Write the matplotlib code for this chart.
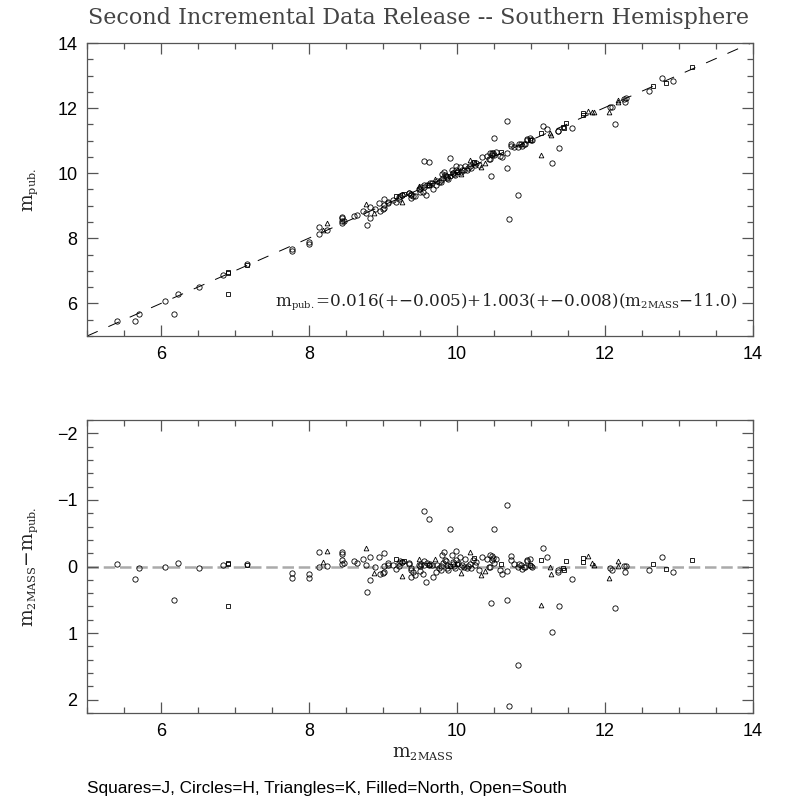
import numpy as np
import matplotlib
matplotlib.use('Agg')
import matplotlib.pyplot as plt
from matplotlib.ticker import MultipleLocator
import matplotlib._mathtext as mtext

plt.rcParams['mathtext.fontset'] = 'dejavuserif'
# smaller subscripts, closer to the original plotting package
mtext.SHRINK_FACTOR = 0.6

# 2MASS magnitude and (m_2MASS - m_pub.) residual, one pair of lists per band
# J band -> squares
j_m2mass = [6.90, 6.90, 6.90, 7.16, 9.17, 9.29, 9.62, 9.90, 10.00, 10.23, 10.60, 10.99,
            11.14, 11.43, 11.44, 11.47, 11.70, 11.70, 12.65, 12.82, 13.17]
j_diff = [-0.06, -0.04, 0.60, -0.03, -0.12, -0.085, -0.03, -0.01, -0.04, -0.125, -0.04, -0.02,
          -0.095, 0.025, 0.055, -0.085, -0.135, -0.075, -0.04, 0.045, -0.10]

# H band -> circles
h_m2mass = [5.41, 5.65, 5.70, 6.06, 6.18, 6.23, 6.52, 6.84, 7.16, 7.77, 7.77, 8.00, 8.00,
            8.14, 8.14, 8.24, 8.44, 8.44, 8.44, 8.44, 8.47, 8.61, 8.65, 8.73, 8.77, 8.82,
            8.89, 8.82, 8.79, 8.94, 8.96, 9.00, 9.01, 9.02, 9.01, 9.07, 9.07, 9.14, 9.17,
            9.21, 9.23, 9.26, 9.21, 9.35, 9.38, 9.38, 9.40, 9.38, 9.43, 9.49,
            9.25, 9.35, 9.52, 9.55, 9.55, 9.59, 9.62, 9.64, 9.66, 9.50, 9.50, 9.71, 9.73,
            9.76, 9.78, 9.79, 9.81, 9.82, 9.80, 9.84, 9.85, 9.86, 9.87, 9.88, 9.93, 9.94,
            9.95, 9.96, 9.98, 9.97, 9.99, 10.02, 10.04, 10.05, 10.07, 10.09, 10.11, 10.13,
            10.15, 10.17, 10.19, 10.21, 10.24, 10.26, 10.30, 10.34, 10.41, 10.43,
            9.55, 9.62, 9.91, 10.50, 10.67, 11.16, 11.22, 12.77, 10.46, 10.67, 11.38, 11.28,
            12.13, 10.82, 10.70, 11.56, 9.58, 9.68, 9.54,
            10.45, 10.47, 10.49, 10.53, 10.47, 10.45, 10.50, 10.58, 10.61, 10.68, 10.73,
            10.73, 10.77, 10.83, 10.84, 10.86, 10.88, 10.90, 10.92, 10.94, 10.95, 11.00,
            11.01, 10.98,
            12.07, 12.10, 12.26, 12.29, 12.27, 12.59, 12.92, 11.36, 11.37]
h_diff = [-0.04, 0.19, 0.02, 0.00, 0.50, -0.06, 0.02, -0.02, -0.04, 0.10, 0.17, 0.11, 0.17,
          -0.22, 0.00, -0.01, -0.22, -0.19, -0.10, -0.04, -0.05, -0.09, -0.06, -0.12, -0.02, -0.15,
          0.00, 0.21, 0.38, -0.15, 0.11, 0.10, 0.085, -0.20, -0.01, -0.06, -0.03, -0.03, 0.04,
          -0.06, -0.08, -0.07, -0.01, -0.05, 0.02, 0.05, 0.085, 0.155, 0.125, -0.02,
          -0.075, -0.045, -0.045, -0.08, -0.025, -0.055, -0.025, -0.045, -0.025, -0.015, 0.065, 0.085, -0.02,
          0.02, 0.055, -0.015, -0.055, -0.215, -0.175, -0.105, -0.08, -0.03, 0.02, 0.055, -0.18, -0.075,
          -0.045, -0.005, -0.235, 0.025, -0.105, -0.055, -0.145, 0.015, -0.025, 0.00, -0.115, 0.025,
          -0.015, -0.045, 0.025, -0.105, -0.025, -0.065, 0.055, -0.145, -0.115, 0.00,
          -0.84, -0.72, -0.56, -0.57, -0.92, -0.28, -0.15, -0.145, 0.55, 0.50, 0.60, 0.98,
          0.62, 1.48, 2.10, 0.185, 0.235, 0.16, 0.115,
          -0.18, -0.16, -0.125, -0.115, -0.105, 0.00, -0.055, 0.055, 0.12, 0.065, -0.155,
          -0.105, -0.045, 0.015, -0.045, -0.025, 0.045, 0.00, 0.015, -0.08, -0.105, -0.015,
          0.00, -0.115,
          0.025, 0.055, -0.015, -0.015, 0.085, 0.055, 0.085, 0.06, 0.085]

# K band -> triangles
k_m2mass = [8.24, 8.19, 8.77, 8.88, 9.25, 9.48, 9.70, 10.06, 10.18, 10.32, 10.38,
            11.13, 12.05, 11.77, 11.83, 11.85, 12.17, 12.17, 11.25, 11.27]
k_diff = [-0.23, -0.07, -0.28, 0.10, 0.14, -0.12, -0.115, 0.095, -0.215, 0.125, 0.065,
          0.58, 0.175, -0.155, -0.055, -0.03, -0.08, -0.01, 0.015, 0.11]

# fit: m_pub. = 0.016 + 1.003 (m_2MASS - 11.0) + 11.0
fit_a, fit_b, fit_x0 = 0.016, 1.003, 11.0

bands = [(j_m2mass, j_diff, 's', 3.0),
         (h_m2mass, h_diff, 'o', 3.8),
         (k_m2mass, k_diff, '^', 3.4)]

fig = plt.figure(figsize=(7.98, 7.98), dpi=100)
ax1 = fig.add_axes([87/798, 1-336/798, 666/798, 293/798])
ax2 = fig.add_axes([87/798, 1-713/798, 666/798, 293/798])

axcol = '#555555'
for ax in (ax1, ax2):
    for s in ax.spines.values():
        s.set_color(axcol)
        s.set_linewidth(0.9)
    ax.tick_params(which='both', direction='in', top=True, right=True, color=axcol, width=0.9)
    ax.tick_params(which='major', length=8, labelsize=13, pad=7)
    ax.tick_params(which='minor', length=4.5)
    ax.set_xlim(5, 14)
    ax.xaxis.set_major_locator(MultipleLocator(2))
    ax.xaxis.set_minor_locator(MultipleLocator(0.5))

# top: published vs 2MASS
for xs, ds, mk, ms in bands:
    xs = np.array(xs)
    ys = xs - np.array(ds)
    ax1.plot(xs, ys, linestyle='none', marker=mk, ms=ms, mfc='none', mec='black', mew=0.6)
xl = np.array([5, 14])
ax1.plot(xl, fit_x0 + fit_a + fit_b * (xl - fit_x0), color='black', lw=0.7,
         linestyle=(0, (12, 12)))
ax1.set_ylim(5, 14)
ax1.yaxis.set_major_locator(MultipleLocator(2))
ax1.yaxis.set_minor_locator(MultipleLocator(0.5))
ax1.text(0.977, 0.116,
         r'$\mathrm{m_{pub.}}$=0.016(+$-$0.005)+1.003(+$-$0.008)($\mathrm{m_{2MASS}}$$-$11.0)',
         transform=ax1.transAxes, ha='right', va='center', fontsize=12.05,
         family='DejaVu Serif', color='#222222')

# bottom: residuals
ax2.axhline(0, color='#aaaaaa', lw=1.8, linestyle=(0, (4.6, 1.9)), zorder=1)
for xs, ds, mk, ms in bands:
    ax2.plot(xs, ds, linestyle='none', marker=mk, ms=ms, mfc='none', mec='black', mew=0.6, zorder=2)
ax2.set_ylim(2.2, -2.2)
ax2.yaxis.set_major_locator(MultipleLocator(1))
ax2.yaxis.set_minor_locator(MultipleLocator(0.2))
for lab in ax1.get_xticklabels() + ax1.get_yticklabels() + ax2.get_xticklabels() + ax2.get_yticklabels():
    lab.set_fontfamily('Liberation Sans')

fig.text(419/798, 1-18/798, 'Second Incremental Data Release -- Southern Hemisphere',
         ha='center', va='center', fontsize=16, family='DejaVu Serif', color='#444444')
fig.text(30/798, 1-190/798, r'$\mathrm{m_{pub.}}$', rotation=90, ha='center', va='center',
         fontsize=13.5, color='#222222')
fig.text(30/798, 1-567/798, r'$\mathrm{m_{2MASS}}$$-$$\mathrm{m_{pub.}}$', rotation=90, ha='center',
         va='center', fontsize=13.5, color='#222222')
fig.text(423/798, 1-752/798, r'$\mathrm{m_{2MASS}}$', ha='center', va='center',
         fontsize=13.5, color='#222222')
fig.text(87/798, 1-788/798, 'Squares=J, Circles=H, Triangles=K, Filled=North, Open=South',
         ha='left', va='center', fontsize=12.4, family='Liberation Sans')

fig.savefig('out.png', dpi=100)
